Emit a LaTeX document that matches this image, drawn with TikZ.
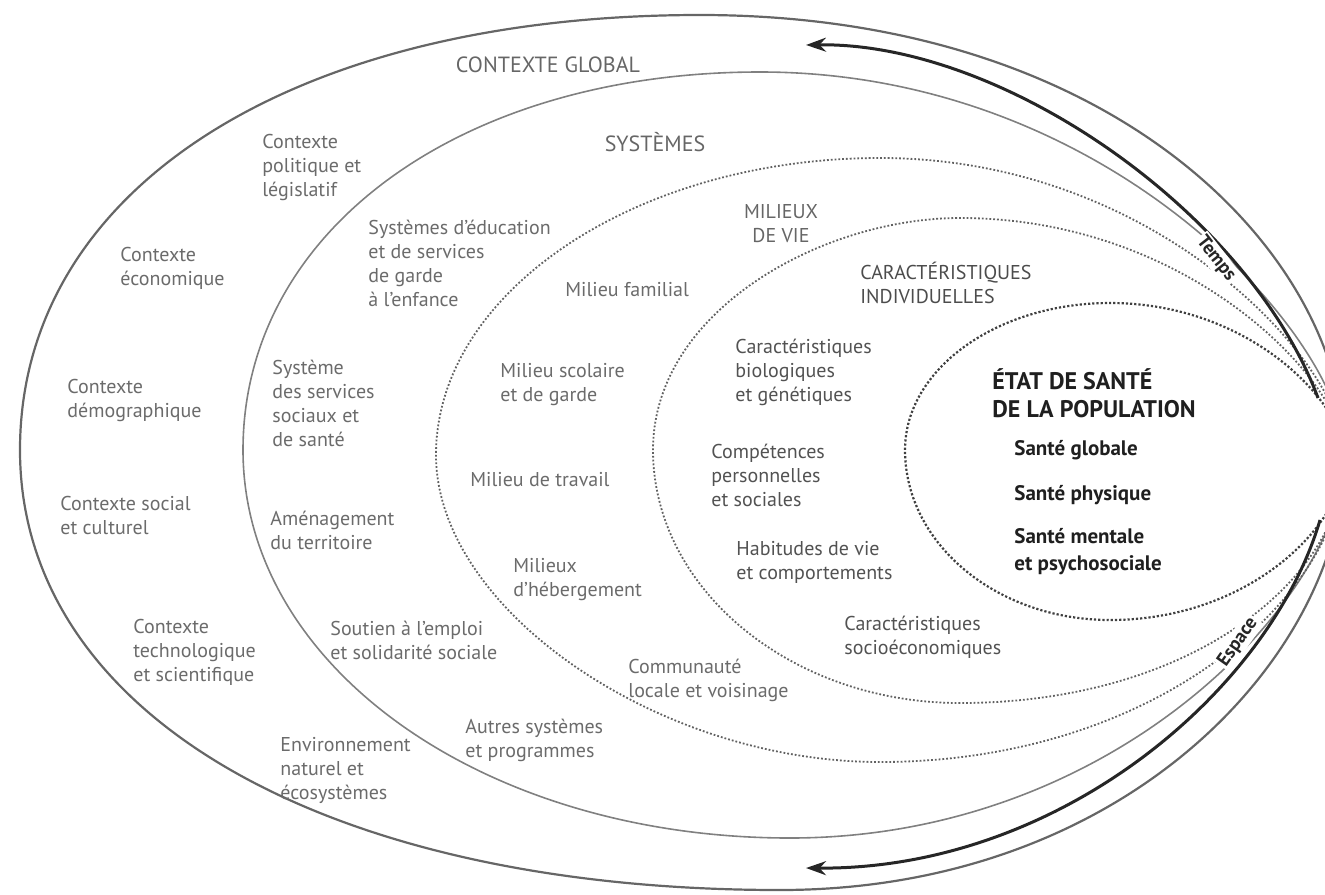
\documentclass[tikz,border=0pt]{standalone}
\usepackage{fontspec}
\setmainfont{PT Sans}
\usetikzlibrary{arrows.meta}

\begin{document}
\begin{tikzpicture}[x=0.5pt,y=-0.5pt,
  etiq/.style={anchor=west,align=left,inner sep=0pt,text=black!58,font=\fontsize{10}{12}\selectfont},
  etiqcar/.style={etiq,text=black!68},
  titre/.style={inner sep=0pt,align=center,text=black!60,font=\fontsize{10}{12}\selectfont},
  sante/.style={anchor=west,align=left,inner sep=0pt,text=black!88,font=\bfseries\fontsize{10.5}{13.5}\selectfont},
  axe/.style={inner sep=1pt,fill=white,text=black!85,font=\bfseries\fontsize{9.5}{11}\selectfont},
  anneau/.style={line width=0.9pt,black!60},
  pointille/.style={densely dotted,line width=0.9pt,black!62},
  fleche/.style={line width=1.5pt,black!85,-{Stealth[length=10pt,width=7pt]}}]

\useasboundingbox (0,0) rectangle (1325,894);
\clip (0,0) rectangle (1325,894);

% les anneaux
\draw[anneau,line width=1.1pt] (1345,455) .. controls +(0,-198) and +(419,0) .. (700,15)
  .. controls +(-408,0) and +(0,-261) .. (20,450)
  .. controls +(0,264) and +(-456,0) .. (780,890)
  .. controls +(350,0) and +(0,196) .. (1345,455) -- cycle;
\draw[anneau,black!50,line width=0.8pt] (1345,455) .. controls +(0,-115) and +(351,0) .. (760,72)
  .. controls +(-300,0) and +(0,-219) .. (243,450)
  .. controls +(0,217) and +(-306,0) .. (790,838)
  .. controls +(333,0) and +(0,134) .. (1345,455) -- cycle;
\draw[pointille] (1345,455) .. controls +(0,-89) and +(279,0) .. (880,158)
  .. controls +(-244,0) and +(0,-163) .. (436,455)
  .. controls +(0,154) and +(-222,0) .. (880,762)
  .. controls +(279,0) and +(0,138) .. (1345,455) -- cycle;
\draw[pointille] (1345,455) .. controls +(0,-71) and +(231,0) .. (960,218)
  .. controls +(-138,0) and +(0,-139) .. (653,450)
  .. controls +(0,139) and +(-169,0) .. (960,703)
  .. controls +(231,0) and +(0,124) .. (1345,455) -- cycle;
\draw[pointille,black!75,line width=1.1pt] (1345,458) .. controls +(0,-54) and +(141,0) .. (1110,303)
  .. controls +(-113,0) and +(0,-81) .. (905,450)
  .. controls +(0,94) and +(-113,0) .. (1110,620)
  .. controls +(141,0) and +(0,65) .. (1345,458) -- cycle;

% temps et espace
\coordinate (tempsD) at (1318,398);
\coordinate (tempsF) at (806,45);
\coordinate (espD) at (1320,520);
\coordinate (espF) at (806,868);
\draw[fleche] (tempsD) .. controls (1250,215) and (1005,42) .. (tempsF);
\draw[fleche] (espD) .. controls (1270,690) and (1060,870) .. (espF);
\node[axe,rotate=-52] (temps) at (1216,259) {Temps};
\node[axe,rotate=55] (espace) at (1238,642) {Espace};

% contexte global
\node[titre,font=\fontsize{11}{13}\selectfont] (ctxglobal) at (548,65) {CONTEXTE GLOBAL};
\foreach \nom/\x/\y/\txt in {
  ctxpol/262/167/{Contexte\\politique et\\législatif},
  ctxeco/120/268/{Contexte\\économique},
  ctxdemo/67/400/{Contexte\\démographique},
  ctxsoc/60/515/{Contexte social\\et culturel},
  ctxtech/133/652/{Contexte\\technologique\\et scientifique},
  ctxenv/280/770/{Environnement\\naturel et\\écosystèmes}}
  \node[etiq] (\nom) at (\x,\y) {\txt};

% systemes
\node[titre,font=\fontsize{11}{13}\selectfont] (systemes) at (655,142) {SYSTÈMES};
\foreach \nom/\x/\y/\txt in {
  sysedu/368/263/{Systèmes d’éducation\\et de services\\de garde\\à l’enfance},
  syssante/272/403/{Système\\des services\\sociaux et\\de santé},
  sysamen/270/530/{Aménagement\\du territoire},
  sysemploi/330/640/{Soutien à l’emploi\\et solidarité sociale},
  sysautres/465/740/{Autres systèmes\\et programmes}}
  \node[etiq] (\nom) at (\x,\y) {\txt};

% milieux de vie
\node[titre] (milieux) at (781,224) {MILIEUX\\DE VIE};
\foreach \nom/\x/\y/\txt in {
  milfam/565/290/{Milieu familial},
  milscol/500/385/{Milieu scolaire\\et de garde},
  miltrav/470/480/{Milieu de travail},
  milheb/513/580/{Milieux\\d’hébergement},
  milcomm/628/680/{Communauté\\locale et voisinage}}
  \node[etiq] (\nom) at (\x,\y) {\txt};

% caracteristiques individuelles
\node[etiqcar,text=black!70] (caract) at (860,283) {CARACTÉRISTIQUES\\INDIVIDUELLES};
\foreach \nom/\x/\y/\txt in {
  carbio/735/372/{Caractéristiques\\biologiques\\et génétiques},
  carcomp/711/475/{Compétences\\personnelles\\et sociales},
  carhab/736/562/{Habitudes de vie\\et comportements},
  carsocio/844/637/{Caractéristiques\\socioéconomiques}}
  \node[etiqcar] (\nom) at (\x,\y) {\txt};

% etat de sante
\node[sante,font=\bfseries\fontsize{12}{14}\selectfont] (etat) at (992,393) {ÉTAT DE SANTÉ\\DE LA POPULATION};
\node[sante] (globale) at (1014,450) {Santé globale};
\node[sante] (physique) at (1014,495) {Santé physique};
\node[sante] (mentale) at (1014,552) {Santé mentale\\et psychosociale};
\end{tikzpicture}
\end{document}
